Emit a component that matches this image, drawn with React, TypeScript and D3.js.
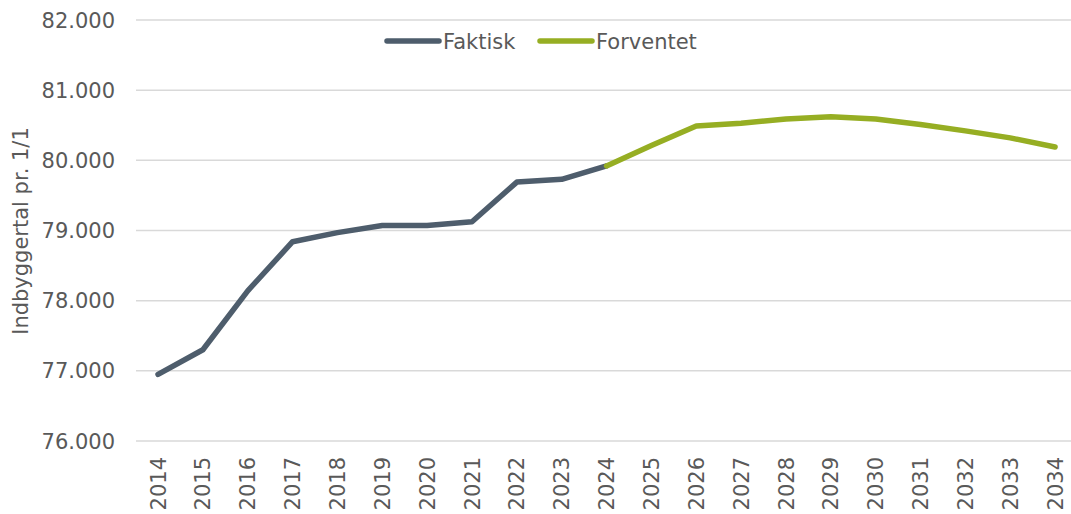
import React, { useEffect, useRef } from "react";
import * as d3 from "d3";

const years = [
  "2014", "2015", "2016", "2017", "2018", "2019", "2020", "2021", "2022", "2023", "2024",
  "2025", "2026", "2027", "2028", "2029", "2030", "2031", "2032", "2033", "2034",
];
// actual population (2014-2024)
const faktisk = [76950, 77300, 78140, 78840, 78970, 79070, 79070, 79125, 79690, 79730, 79920];
// expected population (2024-2034)
const forventet = [79920, 80210, 80490, 80530, 80590, 80620, 80590, 80510, 80420, 80320, 80190];
const yTicks = [76000, 77000, 78000, 79000, 80000, 81000, 82000];

const App = () => {
  const ref = useRef<SVGSVGElement>(null);

  useEffect(() => {
    const width = 1071;
    const height = 514;
    const svg = d3.select(ref.current).attr("width", width).attr("height", height);
    svg.selectAll("*").remove();

    const font = "DejaVu Sans, Verdana, sans-serif";
    const grey = "#595959";
    const fs = 21;

    const x = d3.scaleBand().domain(years).range([135.6, 1077.5]);
    const y = d3.scaleLinear().domain([76000, 82000]).range([441, 20]);
    const cx = (d: string) => (x(d) as number) + x.bandwidth() / 2;

    // gridlines
    svg
      .append("g")
      .selectAll("line")
      .data(yTicks)
      .join("line")
      .attr("x1", 136)
      .attr("x2", width)
      .attr("y1", (d) => y(d))
      .attr("y2", (d) => y(d))
      .attr("stroke", "#d9d9d9")
      .attr("stroke-width", 1.5);

    // y labels
    svg
      .append("g")
      .selectAll("text")
      .data(yTicks)
      .join("text")
      .attr("x", 115)
      .attr("y", (d) => y(d))
      .attr("dy", "0.36em")
      .attr("text-anchor", "end")
      .attr("font-family", font)
      .attr("font-size", fs)
      .attr("fill", grey)
      .text((d) => d3.format(",")(d).replace(/,/g, "."));

    // x labels
    svg
      .append("g")
      .selectAll("text")
      .data(years)
      .join("text")
      .attr("transform", (d) => `translate(${cx(d)},457) rotate(-90)`)
      .attr("dy", "0.36em")
      .attr("text-anchor", "end")
      .attr("font-family", font)
      .attr("font-size", fs)
      .attr("fill", grey)
      .text((d) => d);

    // axis title
    svg
      .append("text")
      .attr("transform", "translate(20,231) rotate(-90)")
      .attr("dy", "0.36em")
      .attr("text-anchor", "middle")
      .attr("font-family", font)
      .attr("font-size", fs)
      .attr("fill", grey)
      .text("Indbyggertal pr. 1/1");

    const line = d3
      .line<[string, number]>()
      .x((d) => cx(d[0]))
      .y((d) => y(d[1]));

    const series = [
      { name: "Faktisk", color: "#4e5d6c", pts: faktisk.map((v, i) => [years[i], v] as [string, number]) },
      { name: "Forventet", color: "#96ae23", pts: forventet.map((v, i) => [years[i + 10], v] as [string, number]) },
    ];

    series.forEach((s) => {
      svg
        .append("path")
        .attr("d", line(s.pts))
        .attr("fill", "none")
        .attr("stroke", s.color)
        .attr("stroke-width", 5.5)
        .attr("stroke-linecap", "round")
        .attr("stroke-linejoin", "round");
    });

    // legend
    const legendX = [387, 540];
    series.forEach((s, i) => {
      const g = svg.append("g").attr("transform", `translate(${legendX[i]},41)`);
      g.append("line")
        .attr("x1", 0)
        .attr("x2", 52)
        .attr("stroke", s.color)
        .attr("stroke-width", 5.5)
        .attr("stroke-linecap", "round");
      g.append("text")
        .attr("x", 56)
        .attr("dy", "0.36em")
        .attr("font-family", font)
        .attr("font-size", fs)
        .attr("fill", grey)
        .text(s.name);
    });
  }, []);

  return (
    <div style={{ position: "absolute", left: 0, top: 0 }}>
      <svg ref={ref}></svg>
    </div>
  );
};

export default App;
